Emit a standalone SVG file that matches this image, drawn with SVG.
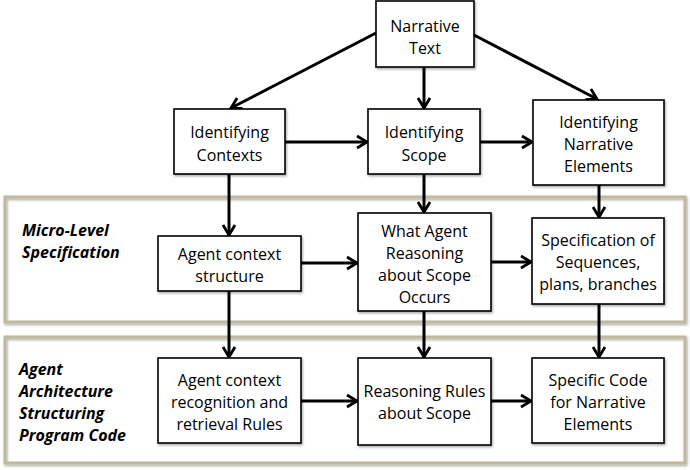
<svg xmlns="http://www.w3.org/2000/svg" width="690" height="470" viewBox="0 0 690 470">
<defs>
<marker id="ah" markerUnits="userSpaceOnUse" markerWidth="16" markerHeight="16" viewBox="0 0 16 16" refX="13" refY="8" orient="auto">
<path d="M3,2 L13,8 L3,14" fill="none" stroke="#000" stroke-width="2.8" stroke-linejoin="miter"/>
</marker>
<filter id="sh" x="-5%" y="-5%" width="110%" height="115%">
<feDropShadow dx="1" dy="1.5" stdDeviation="1" flood-color="#000" flood-opacity="0.35"/>
</filter>
</defs>
<style>
.box{fill:#fff;stroke:#000;stroke-width:1.6;filter:url(#sh)}
.panel{fill:none;stroke:#bfb89b;stroke-width:3;filter:url(#sh)}
.t{font-family:"Open Sans","Noto Sans",sans-serif;font-size:16px;fill:#000;text-anchor:middle}
.pl{font-family:"Open Sans","Noto Sans",sans-serif;font-size:16px;font-weight:bold;font-style:italic;fill:#000}
.c{fill:none;stroke:#000;stroke-width:3;marker-end:url(#ah)}
</style>
<rect x="0" y="0" width="690" height="470" fill="#fff"/>
<g id="panel-micro">
<rect class="panel" x="5" y="197" width="680" height="125"/>
<text class="pl" x="22" y="236">Micro-Level</text>
<text class="pl" x="22" y="258">Specification</text>
</g>
<g id="panel-agent">
<rect class="panel" x="5" y="337" width="680" height="126"/>
<text class="pl" x="19" y="375">Agent</text>
<text class="pl" x="19" y="397">Architecture</text>
<text class="pl" x="19" y="419">Structuring</text>
<text class="pl" x="19" y="441">Program Code</text>
</g>
<g id="connectors">
<line class="c" x1="376" y1="33" x2="231" y2="108"/>
<line class="c" x1="424" y1="67" x2="424" y2="108"/>
<line class="c" x1="474" y1="35" x2="597" y2="99"/>
<line class="c" x1="285" y1="142" x2="367" y2="142"/>
<line class="c" x1="480" y1="142" x2="532" y2="142"/>
<line class="c" x1="229" y1="174" x2="229" y2="235"/>
<line class="c" x1="424" y1="174" x2="424" y2="212"/>
<line class="c" x1="599" y1="185" x2="599" y2="217"/>
<line class="c" x1="301" y1="263" x2="357" y2="263"/>
<line class="c" x1="491" y1="262" x2="531" y2="262"/>
<line class="c" x1="229" y1="291" x2="229" y2="357"/>
<line class="c" x1="424" y1="311" x2="424" y2="357"/>
<line class="c" x1="599" y1="304" x2="599" y2="357"/>
<line class="c" x1="301" y1="401" x2="357" y2="401"/>
<line class="c" x1="491" y1="401" x2="531" y2="401"/>
</g>
<g id="narrative-text">
<rect class="box" x="376" y="1" width="98" height="66"/>
<text class="t" x="425" y="32">Narrative</text>
<text class="t" x="425" y="54">Text</text>
</g>
<g id="identifying-contexts">
<rect class="box" x="174" y="109" width="111" height="65"/>
<text class="t" x="229.5" y="138">Identifying</text>
<text class="t" x="229.5" y="161">Contexts</text>
</g>
<g id="identifying-scope">
<rect class="box" x="368" y="109" width="112" height="65"/>
<text class="t" x="424" y="138">Identifying</text>
<text class="t" x="424" y="161">Scope</text>
</g>
<g id="identifying-narrative-elements">
<rect class="box" x="533" y="100" width="131" height="85"/>
<text class="t" x="598.5" y="128">Identifying</text>
<text class="t" x="598.5" y="150">Narrative</text>
<text class="t" x="598.5" y="172">Elements</text>
</g>
<g id="agent-context-structure">
<rect class="box" x="158" y="236" width="143" height="55"/>
<text class="t" x="229.5" y="260">Agent context</text>
<text class="t" x="229.5" y="282">structure</text>
</g>
<g id="what-agent-reasoning">
<rect class="box" x="358" y="213" width="133" height="98"/>
<text class="t" x="424.5" y="237">What Agent</text>
<text class="t" x="424.5" y="259">Reasoning</text>
<text class="t" x="424.5" y="281">about Scope</text>
<text class="t" x="424.5" y="303">Occurs</text>
</g>
<g id="specification-sequences">
<rect class="box" x="532" y="218" width="132" height="86"/>
<text class="t" x="598" y="246">Specification of</text>
<text class="t" x="598" y="268">Sequences,</text>
<text class="t" x="598" y="290">plans, branches</text>
</g>
<g id="agent-context-recognition">
<rect class="box" x="158" y="358" width="143" height="85"/>
<text class="t" x="229.5" y="386">Agent context</text>
<text class="t" x="229.5" y="408">recognition and</text>
<text class="t" x="229.5" y="430">retrieval Rules</text>
</g>
<g id="reasoning-rules">
<rect class="box" x="358" y="358" width="133" height="87"/>
<text class="t" x="424.5" y="397">Reasoning Rules</text>
<text class="t" x="424.5" y="419">about Scope</text>
</g>
<g id="specific-code">
<rect class="box" x="532" y="358" width="132" height="85"/>
<text class="t" x="598" y="386">Specific Code</text>
<text class="t" x="598" y="408">for Narrative</text>
<text class="t" x="598" y="430">Elements</text>
</g>
</svg>
